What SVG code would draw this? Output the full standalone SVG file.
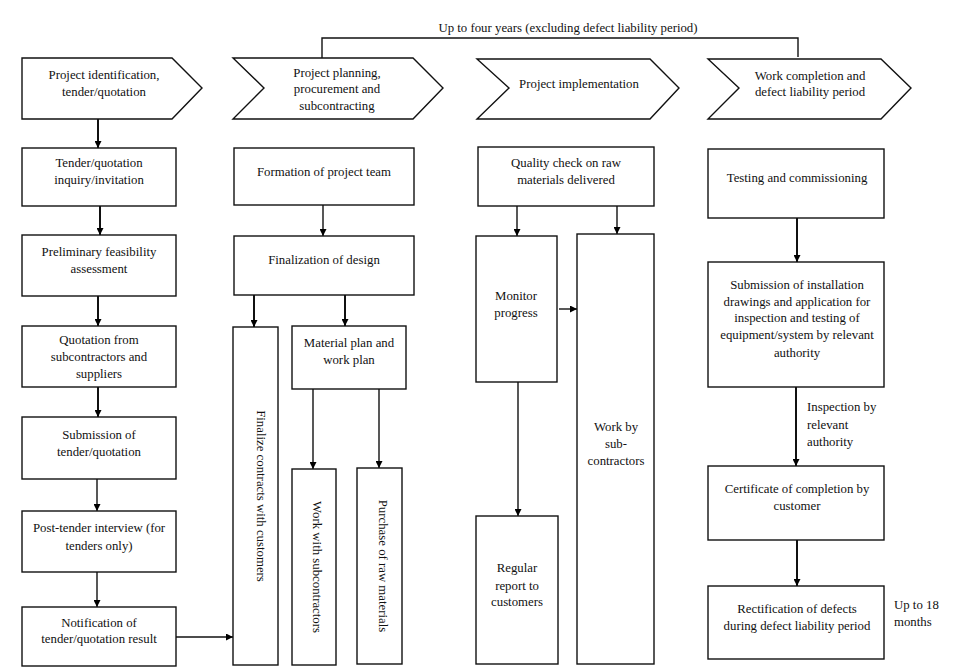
<svg xmlns="http://www.w3.org/2000/svg" width="956" height="672" viewBox="0 0 956 672">
<defs>
<marker id="ah" viewBox="0 0 10 10" refX="10" refY="5" markerWidth="7" markerHeight="7" markerUnits="userSpaceOnUse" orient="auto"><path d="M0,0 L10,5 L0,10 Z" fill="#000"/></marker>
<style>
text{font-family:"Liberation Serif","Times New Roman",serif;font-size:12.8px;fill:#111;text-anchor:middle}
.l{text-anchor:start}
.b{fill:#fff;stroke:#111;stroke-width:1.4}
.c{fill:none;stroke:#111;stroke-width:1.4}
.a{fill:none;stroke:#111;stroke-width:1.4;marker-end:url(#ah)}
.t{stroke-width:2}
</style>
</defs>
<rect width="956" height="672" fill="#fff"/>
<g id="connectors">
<path class="c" d="M322,58 V38 H798 V57"/>
<path class="a t" d="M98,119 V148"/>
<path class="a t" d="M100,206 V235"/>
<path class="a t" d="M98,296 V326"/>
<path class="a t" d="M98,387 V417"/>
<path class="a" d="M97,479 V511"/>
<path class="a" d="M97,572 V607"/>
<path class="a" d="M176,637 H233"/>
<path class="a" d="M323,205 V236"/>
<path class="a t" d="M254,295 V327"/>
<path class="a t" d="M345,295 V326"/>
<path class="a" d="M313,389 V469"/>
<path class="a" d="M379,389 V468"/>
<path class="a" d="M517,206 V236"/>
<path class="a" d="M617,206 V234"/>
<path class="a" d="M559,309 H577"/>
<path class="a" d="M518,382 V516"/>
<path class="a t" d="M797,218 V262"/>
<path class="a t" d="M796,387 V466"/>
<path class="a t" d="M797,540 V586"/>
</g>
<g id="label-top"><text x="568" y="32">Up to four years (excluding defect liability period)</text></g>
<g id="phase1"><path class="b" d="M22,58 L172,58 L202,88 L172,119 L22,119 Z"/><text x="104" y="79">Project identification,</text><text x="104" y="96">tender/quotation</text></g>
<g id="phase2"><path class="b" d="M233,58 L413,58 L443,88 L413,119 L233,119 L264,88 Z"/><text x="337" y="77">Project planning,</text><text x="337" y="93">procurement and</text><text x="337" y="110">subcontracting</text></g>
<g id="phase3"><path class="b" d="M477,59 L650,59 L679,88 L650,119 L477,119 L509,88 Z"/><text x="579" y="88">Project implementation</text></g>
<g id="phase4"><path class="b" d="M708,59 L881,59 L911,88 L881,119 L708,119 L739,88 Z"/><text x="810" y="80">Work completion and</text><text x="810" y="96">defect liability period</text></g>

<g id="n1"><rect class="b" x="22" y="148" width="154" height="58"/><text x="99" y="167">Tender/quotation</text><text x="99" y="184">inquiry/invitation</text></g>
<g id="n2"><rect class="b" x="22" y="235" width="154" height="61"/><text x="99" y="256">Preliminary feasibility</text><text x="99" y="273">assessment</text></g>
<g id="n3"><rect class="b" x="22" y="326" width="154" height="61"/><text x="99" y="344">Quotation from</text><text x="99" y="361">subcontractors and</text><text x="99" y="378">suppliers</text></g>
<g id="n4"><rect class="b" x="22" y="417" width="154" height="62"/><text x="99" y="439">Submission of</text><text x="99" y="456">tender/quotation</text></g>
<g id="n5"><rect class="b" x="22" y="511" width="154" height="61"/><text x="99" y="532">Post-tender interview (for</text><text x="99" y="550">tenders only)</text></g>
<g id="n6"><rect class="b" x="22" y="607" width="154" height="59"/><text x="99" y="627">Notification of</text><text x="99" y="643">tender/quotation result</text></g>

<g id="n7"><rect class="b" x="234" y="148" width="180" height="57"/><text x="324" y="176">Formation of project team</text></g>
<g id="n8"><rect class="b" x="234" y="236" width="180" height="59"/><text x="324" y="264">Finalization of design</text></g>
<g id="n9"><rect class="b" x="233" y="327" width="45" height="338"/><text transform="translate(261,496) rotate(90)" y="4">Finalize contracts with customers</text></g>
<g id="n10"><rect class="b" x="292" y="326" width="114" height="63"/><text x="349" y="347">Material plan and</text><text x="349" y="364">work plan</text></g>
<g id="n11"><rect class="b" x="292" y="469" width="44" height="196"/><text transform="translate(317,567) rotate(90)" y="4">Work with subcontractors</text></g>
<g id="n12"><rect class="b" x="357" y="468" width="45" height="196"/><text transform="translate(383,566) rotate(90)" y="4">Purchase of raw materials</text></g>

<g id="n13"><rect class="b" x="478" y="147" width="176" height="59"/><text x="566" y="167">Quality check on raw</text><text x="566" y="184">materials delivered</text></g>
<g id="n14"><rect class="b" x="476" y="236" width="81" height="146"/><text x="516" y="300">Monitor</text><text x="516" y="317">progress</text></g>
<g id="n15"><rect class="b" x="577" y="234" width="77" height="430"/><text x="616" y="431">Work by</text><text x="616" y="448">sub-</text><text x="616" y="465">contractors</text></g>
<g id="n16"><rect class="b" x="476" y="516" width="82" height="148"/><text x="517" y="572">Regular</text><text x="517" y="590">report to</text><text x="517" y="606">customers</text></g>

<g id="n17"><rect class="b" x="708" y="149" width="176" height="69"/><text x="797" y="182">Testing and commissioning</text></g>
<g id="n18"><rect class="b" x="708" y="262" width="176" height="125"/><text x="797" y="289">Submission of installation</text><text x="797" y="306">drawings and application for</text><text x="797" y="322">inspection and testing of</text><text x="797" y="339">equipment/system by relevant</text><text x="797" y="357">authority</text></g>
<g id="label-insp"><text class="l" x="807" y="411">Inspection by</text><text class="l" x="807" y="429">relevant</text><text class="l" x="807" y="446">authority</text></g>
<g id="n19"><rect class="b" x="708" y="466" width="176" height="74"/><text x="797" y="493">Certificate of completion by</text><text x="797" y="510">customer</text></g>
<g id="n20"><rect class="b" x="708" y="586" width="176" height="73"/><text x="797" y="613">Rectification of defects</text><text x="797" y="630">during defect liability period</text></g>
<g id="label-18"><text class="l" x="894" y="609">Up to 18</text><text class="l" x="894" y="626">months</text></g>
</svg>
